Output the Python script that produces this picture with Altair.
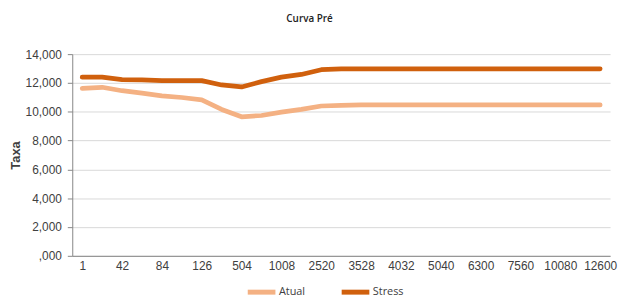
import altair as alt
import pandas as pd

categories = ["1", "21", "42", "63", "84", "105", "126", "252", "504", "756",
              "1008", "1764", "2520", "3024", "3528", "3780", "4032", "4536",
              "5040", "5670", "6300", "6930", "7560", "8820", "10080", "11340", "12600"]
labeled = categories[::2]

atual = [11.62, 11.70, 11.46, 11.29, 11.10, 10.99, 10.82, 10.16, 9.65, 9.74,
         9.97, 10.16, 10.40, 10.45, 10.47, 10.47, 10.47, 10.47, 10.47, 10.47,
         10.47, 10.47, 10.47, 10.47, 10.47, 10.47, 10.47]
stress = [12.40, 12.40, 12.23, 12.21, 12.16, 12.16, 12.16, 11.86, 11.72, 12.09,
          12.40, 12.59, 12.92, 12.98, 12.98, 12.98, 12.98, 12.98, 12.98, 12.98,
          12.98, 12.98, 12.98, 12.98, 12.98, 12.98, 12.98]
series_names = ["Atual", "Stress"]
series_colors = ["#F4B183", "#D0600D"]
y_ticks = [0, 2, 4, 6, 8, 10, 12, 14]

rows = []
for name, vals in zip(series_names, [atual, stress]):
    for c, v in zip(categories, vals):
        rows.append({"prazo": c, "taxa": v, "serie": name})
df = pd.DataFrame(rows)

chart = alt.Chart(df).mark_line(strokeWidth=4.8, strokeCap="round", strokeJoin="round").encode(
    x=alt.X("prazo:O", sort=categories,
            scale=alt.Scale(type="point", padding=0.5),
            axis=alt.Axis(title=None, values=labeled, labelAngle=0, ticks=False,
                          grid=False, domainColor="#868686", labelPadding=5,
                          labelFont="Liberation Sans", labelFontSize=12,
                          labelColor="#404040")),
    y=alt.Y("taxa:Q", scale=alt.Scale(domain=[0, 14], nice=False),
            axis=alt.Axis(title="Taxa", values=y_ticks, grid=True, gridColor="#D9D9D9",
                          domainColor="#868686", tickColor="#868686", tickSize=5,
                          labelPadding=6, labelFont="Liberation Sans", labelFontSize=12,
                          labelColor="#404040",
                          labelExpr="datum.value == 0 ? ',000' : replace(format(datum.value, ',.3f'), '.', ',')",
                          titleFont="Liberation Sans", titleFontSize=13, titleFontWeight="bold",
                          titleColor="#404040", titleX=-57, titleY=102, titleAngle=270,
                          titleAlign="center", titleBaseline="middle")),
    color=alt.Color("serie:N", scale=alt.Scale(domain=series_names, range=series_colors),
                    legend=alt.Legend(title=None, orient="none", legendX=175, legendY=224,
                                      direction="horizontal", symbolType="stroke",
                                      symbolSize=784, symbolStrokeWidth=5,
                                      labelFont="Open Sans", labelFontSize=11,
                                      labelColor="#404040", labelOffset=1,
                                      columnPadding=26)),
).properties(
    width=544, height=204,
    padding={"left": 65, "top": 45, "right": 8, "bottom": 41},
    autosize=alt.AutoSizeParams(type="none"),
    title=alt.TitleParams("Curva Pré", font="Open Sans", fontSize=10, fontWeight=600,
                          color="#222222", anchor="middle", frame="group", dx=-32, offset=24),
).configure_view(stroke=None)

chart.save("out.html", embed_options={"renderer": "svg", "actions": False})
